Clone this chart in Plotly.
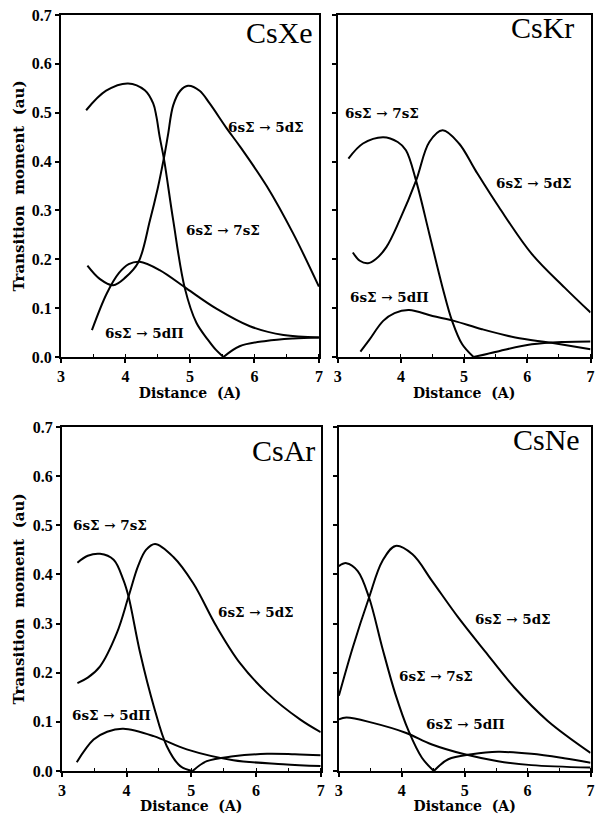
import plotly.graph_objects as go

# ---- CsXe ----
xe_7s_x = [3.39, 3.7, 4.04, 4.3, 4.43, 4.48, 4.53, 4.6, 4.74, 4.92, 5.1, 5.28, 5.4, 5.52, 5.77, 6.18, 6.6, 7.0]
xe_7s_y = [0.505, 0.545, 0.56, 0.546, 0.519, 0.492, 0.451, 0.403, 0.28, 0.141, 0.07, 0.035, 0.015, 0.0, 0.022, 0.033, 0.038, 0.040]
xe_5ds_x = [3.41, 3.6, 3.81, 4.0, 4.2, 4.38, 4.5, 4.56, 4.61, 4.66, 4.74, 4.85, 4.97, 5.15, 5.3, 5.57, 5.78, 6.19, 6.6, 7.0]
xe_5ds_y = [0.187, 0.16, 0.147, 0.163, 0.194, 0.28, 0.345, 0.383, 0.417, 0.455, 0.515, 0.545, 0.555, 0.545, 0.52, 0.468, 0.43, 0.35, 0.253, 0.144]
xe_5dp_x = [3.48, 3.71, 3.9, 4.05, 4.22, 4.53, 4.95, 5.41, 5.93, 6.45, 7.0]
xe_5dp_y = [0.055, 0.13, 0.172, 0.19, 0.195, 0.178, 0.14, 0.099, 0.063, 0.045, 0.040]

# ---- CsKr ----
kr_7s_x = [3.17, 3.4, 3.72, 3.95, 4.08, 4.24, 4.45, 4.66, 4.81, 4.97, 5.15, 5.55, 6.07, 6.59, 7.0]
kr_7s_y = [0.406, 0.437, 0.45, 0.44, 0.423, 0.361, 0.252, 0.142, 0.074, 0.026, 0.0, 0.012, 0.026, 0.031, 0.032]
kr_5ds_x = [3.24, 3.35, 3.48, 3.6, 3.77, 3.98, 4.24, 4.45, 4.66, 4.92, 5.18, 5.55, 6.07, 6.59, 7.0]
kr_5ds_y = [0.214, 0.197, 0.192, 0.2, 0.225, 0.28, 0.361, 0.44, 0.464, 0.437, 0.382, 0.307, 0.211, 0.142, 0.091]
kr_5dp_x = [3.36, 3.5, 3.72, 3.9, 4.13, 4.5, 4.84, 5.28, 5.81, 6.38, 7.0]
kr_5dp_y = [0.011, 0.035, 0.074, 0.09, 0.096, 0.084, 0.074, 0.057, 0.04, 0.029, 0.016]

# ---- CsAr ----
ar_7s_x = [3.24, 3.4, 3.59, 3.8, 3.95, 4.03, 4.21, 4.42, 4.62, 4.83, 5.02, 5.24, 5.65, 6.17, 6.6, 7.0]
ar_7s_y = [0.424, 0.438, 0.442, 0.43, 0.389, 0.355, 0.24, 0.132, 0.051, 0.01, 0.0, 0.02, 0.03, 0.035, 0.034, 0.032]
ar_5ds_x = [3.24, 3.4, 3.59, 3.85, 4.03, 4.18, 4.3, 4.44, 4.72, 5.03, 5.39, 5.75, 6.17, 6.68, 7.0]
ar_5ds_y = [0.179, 0.19, 0.213, 0.281, 0.355, 0.418, 0.45, 0.462, 0.436, 0.382, 0.294, 0.22, 0.159, 0.105, 0.079]
ar_5dp_x = [3.23, 3.49, 3.7, 3.95, 4.42, 4.93, 5.65, 6.42, 7.0]
ar_5dp_y = [0.018, 0.064, 0.08, 0.086, 0.071, 0.044, 0.022, 0.014, 0.01]

# ---- CsNe ----
ne_7s_x = [3.0, 3.12, 3.3, 3.48, 3.69, 3.9, 4.11, 4.32, 4.51, 4.74, 5.11, 5.53, 6.06, 6.58, 7.0]
ne_7s_y = [0.417, 0.423, 0.407, 0.353, 0.251, 0.156, 0.081, 0.027, 0.0, 0.024, 0.034, 0.039, 0.035, 0.026, 0.017]
ne_5ds_x = [3.0, 3.22, 3.48, 3.69, 3.9, 4.17, 4.48, 4.9, 5.32, 5.79, 6.32, 7.0]
ne_5ds_y = [0.153, 0.251, 0.353, 0.427, 0.458, 0.441, 0.387, 0.312, 0.244, 0.17, 0.102, 0.037]
ne_5dp_x = [3.0, 3.12, 3.54, 4.06, 4.48, 5.0, 5.53, 6.06, 7.0]
ne_5dp_y = [0.105, 0.109, 0.098, 0.078, 0.054, 0.034, 0.02, 0.012, 0.007]

x_ticks = [3, 4, 5, 6, 7]
y_ticks = [0.0, 0.1, 0.2, 0.3, 0.4, 0.5, 0.6, 0.7]
y_tick_text = ["0.0", "0.1", "0.2", "0.3", "0.4", "0.5", "0.6", "0.7"]

LBL_7S = "6sΣ → 7sΣ"
LBL_5DS = "6sΣ → 5dΣ"
LBL_5DP = "6sΣ → 5dΠ"

panels = [
    dict(name="CsXe", ax="", xd=[0.1025, 0.536], yd=[0.5614, 0.9816], left=True,
         curves=[(xe_7s_x, xe_7s_y), (xe_5ds_x, xe_5ds_y), (xe_5dp_x, xe_5dp_y)],
         labels=[(LBL_5DS, 6.18, 0.471), (LBL_7S, 5.51, 0.26), (LBL_5DP, 4.29, 0.049)],
         name_at=(6.94, 0.664)),
    dict(name="CsKr", ax="2", xd=[0.5675, 0.9925], yd=[0.5614, 0.9816], left=False,
         curves=[(kr_7s_x, kr_7s_y), (kr_5ds_x, kr_5ds_y), (kr_5dp_x, kr_5dp_y)],
         labels=[(LBL_7S, 3.70, 0.50), (LBL_5DS, 6.1, 0.357), (LBL_5DP, 3.82, 0.123)],
         name_at=(6.77, 0.675)),
    dict(name="CsAr", ax="3", xd=[0.104, 0.539], yd=[0.0528, 0.4754], left=True,
         curves=[(ar_7s_x, ar_7s_y), (ar_5ds_x, ar_5ds_y), (ar_5dp_x, ar_5dp_y)],
         labels=[(LBL_7S, 3.74, 0.501), (LBL_5DS, 6.0, 0.323), (LBL_5DP, 3.77, 0.114)],
         name_at=(6.94, 0.653)),
    dict(name="CsNe", ax="4", xd=[0.5695, 0.9925], yd=[0.0528, 0.4754], left=False,
         curves=[(ne_7s_x, ne_7s_y), (ne_5ds_x, ne_5ds_y), (ne_5dp_x, ne_5dp_y)],
         labels=[(LBL_5DS, 5.76, 0.309), (LBL_7S, 4.54, 0.193), (LBL_5DP, 5.02, 0.096)],
         name_at=(6.87, 0.675)),
]

SERIF = "Liberation Serif"
WIDE_SERIF = "DejaVu Serif"

fig = go.Figure()

line_style = dict(color="black", width=2, shape="spline", smoothing=1.0)

for p in panels:
    xa = "x" + p["ax"]
    ya = "y" + p["ax"]
    for cx, cy in p["curves"]:
        # a curve touching zero is drawn as two branches so the cusp stays sharp
        if 0.0 in cy:
            k = cy.index(0.0)
            pieces = [(cx[:k + 1], cy[:k + 1]), (cx[k:], cy[k:])]
        else:
            pieces = [(cx, cy)]
        for px, py in pieces:
            fig.add_trace(go.Scatter(x=px, y=py, mode="lines", line=line_style,
                                     xaxis=xa, yaxis=ya, showlegend=False,
                                     hoverinfo="skip"))
    for text, lx, ly in p["labels"]:
        fig.add_annotation(x=lx, y=ly, xref=xa, yref=ya, text="<b>%s</b>" % text,
                           showarrow=False,
                           font=dict(family=WIDE_SERIF, size=13.5, color="black"))
    fig.add_annotation(x=p["name_at"][0], y=p["name_at"][1], xref=xa, yref=ya,
                       text=p["name"], showarrow=False, xanchor="right",
                       font=dict(family=SERIF, size=30, color="black"))

    axis_common = dict(showline=True, linecolor="black", linewidth=2, mirror=True,
                       showgrid=False, zeroline=False, ticks="outside",
                       tickcolor="black", tickwidth=1.5, ticklen=4,
                       automargin=False, ticklabeloverflow="allow")
    xaxis = dict(axis_common, domain=p["xd"], range=[3, 7], tickvals=x_ticks,
                 ticktext=["<b>%d</b>" % t for t in x_ticks],
                 anchor=ya,
                 tickfont=dict(family=SERIF, size=16, color="black"),
                 minor=dict(dtick=0.5, ticks="inside", ticklen=3, tickcolor="black",
                            tickwidth=1.2),
                 title=dict(text="<b>Distance  (A)</b>", standoff=1,
                            font=dict(family=WIDE_SERIF, size=14, color="black")))
    yaxis = dict(axis_common, domain=p["yd"], range=[0, 0.7], tickvals=y_ticks,
                 anchor=xa,
                 tickfont=dict(family=SERIF, size=16, color="black"))
    if p["left"]:
        yaxis.update(ticktext=["<b>%s</b>" % t for t in y_tick_text],
                     title=dict(text="<b>Transition  moment  (au)</b>", standoff=4,
                                font=dict(family=WIDE_SERIF, size=15,
                                          color="black")))
    else:
        yaxis.update(showticklabels=False)
    fig.update_layout(**{"xaxis" + p["ax"]: xaxis, "yaxis" + p["ax"]: yaxis})

fig.update_layout(width=595, height=814, margin=dict(l=0, r=0, t=0, b=0),
                  paper_bgcolor="white", plot_bgcolor="white")

fig.write_html("out.html")
